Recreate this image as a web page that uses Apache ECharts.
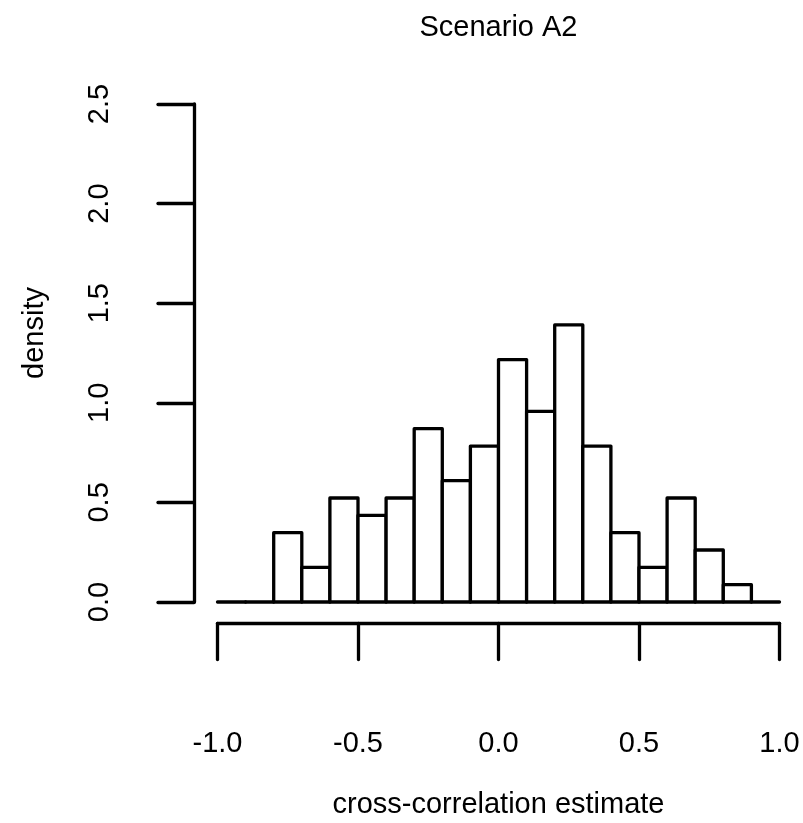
<!DOCTYPE html>
<html>
<head>
<meta charset="utf-8">
<script src="https://cdn.jsdelivr.net/npm/echarts@6/dist/echarts.min.js"></script>
<style>
  html, body { margin: 0; padding: 0; background: #fff; }
  #chart { width: 803px; height: 823px; }
</style>
</head>
<body>
<div id="chart"></div>
<script>
// Histogram bins (left edges, width 0.1) and their densities
const binStarts = [-1.0, -0.9, -0.8, -0.7, -0.6, -0.5, -0.4, -0.3, -0.2, -0.1,
                   0.0, 0.1, 0.2, 0.3, 0.4, 0.5, 0.6, 0.7, 0.8, 0.9];
const binWidth = 0.1;
const densities = [0, 0, 0.348, 0.174, 0.522, 0.435, 0.522, 0.870, 0.609, 0.783,
                   1.217, 0.957, 1.391, 0.783, 0.348, 0.174, 0.522, 0.261, 0.087, 0];
const xTicks = [-1.0, -0.5, 0.0, 0.5, 1.0];
const yTicks = [0.0, 0.5, 1.0, 1.5, 2.0, 2.5];

const titleText = 'Scenario A2';
const xLabel = 'cross-correlation estimate';
const yLabel = 'density';

const FONT = '"Liberation Sans", Arial, Helvetica, sans-serif';
const FS = 29;
const LW = 3.3;

const data = binStarts.map((s, i) => [s, s + binWidth, densities[i]]);

const chart = echarts.init(document.getElementById('chart'), null, { renderer: 'canvas' });

const axisCommon = {
  type: 'value',
  splitLine: { show: false },
  axisLine: { show: true, onZero: false, lineStyle: { color: '#000', width: LW, cap: 'round' } },
  axisTick: { show: true, inside: false, length: 36, lineStyle: { color: '#000', width: LW, cap: 'round' } },
  axisLabel: {
    color: '#000', fontSize: FS, fontFamily: FONT,
    formatter: v => v.toFixed(1)
  }
};

chart.setOption({
  animation: false,
  backgroundColor: '#fff',
  grid: { left: 217.5, right: 23.5, top: 104, bottom: 221, containLabel: false },
  xAxis: Object.assign({}, axisCommon, {
    min: xTicks[0], max: xTicks[xTicks.length - 1], interval: 0.5,
    offset: 21.5,
    axisLabel: Object.assign({}, axisCommon.axisLabel, { margin: 106 })
  }),
  yAxis: Object.assign({}, axisCommon, {
    min: yTicks[0], max: yTicks[yTicks.length - 1], interval: 0.5,
    offset: 23.5,
    axisLabel: Object.assign({}, axisCommon.axisLabel, { rotate: 90, margin: 80 })
  }),
  graphic: [
    { type: 'text', x: 498.5, y: 28, style: { text: titleText, fill: '#000', font: FS + 'px ' + FONT, textAlign: 'center', textVerticalAlign: 'middle' } },
    { type: 'text', x: 498.5, y: 805, style: { text: xLabel, fill: '#000', font: FS + 'px ' + FONT, textAlign: 'center', textVerticalAlign: 'middle' } },
    { type: 'text', x: 35, y: 333, rotation: Math.PI / 2, style: { text: yLabel, fill: '#000', font: FS + 'px ' + FONT, textAlign: 'center', textVerticalAlign: 'middle' } }
  ],
  series: [{
    type: 'custom',
    clip: false,
    data: data,
    encode: { x: [0, 1], y: 2 },
    renderItem: function (params, api) {
      const p0 = api.coord([api.value(0), api.value(2)]);
      const p1 = api.coord([api.value(1), 0]);
      return {
        type: 'rect',
        shape: { x: p0[0], y: p0[1], width: p1[0] - p0[0], height: p1[1] - p0[1] },
        style: { fill: '#fff', stroke: '#000', lineWidth: LW, lineJoin: 'round' }
      };
    }
  }]
});
</script>
</body>
</html>
